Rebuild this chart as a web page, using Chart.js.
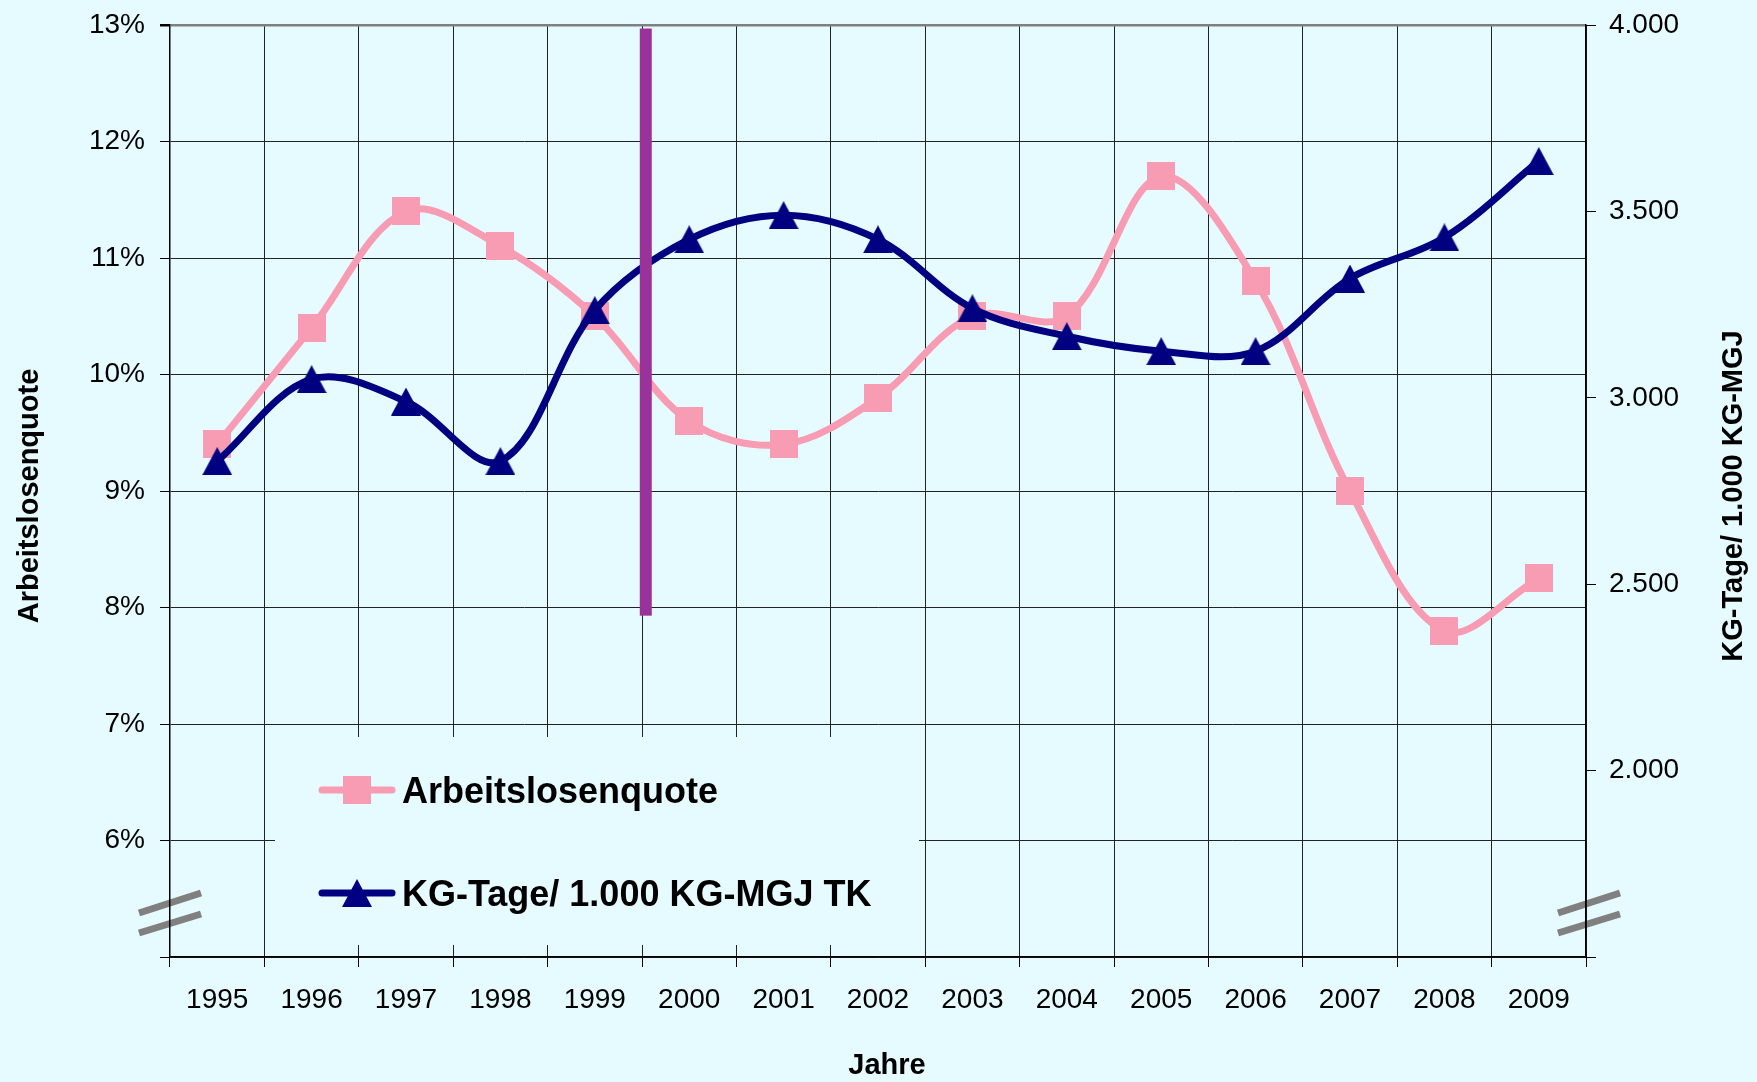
<!DOCTYPE html>
<html lang="de">
<head>
<meta charset="utf-8">
<title>Arbeitslosenquote und KG-Tage</title>
<script src="https://cdn.jsdelivr.net/npm/chart.js@4.4.1/dist/chart.umd.min.js"></script>
<style>
  html, body { margin: 0; padding: 0; background: #e6fbff; }
  #wrap { width: 1757px; height: 1082px; }
</style>
</head>
<body>
<div id="wrap"><canvas id="chart"></canvas></div>
<script>
// Daten
const years = ["1995", "1996", "1997", "1998", "1999", "2000", "2001", "2002", "2003", "2004", "2005", "2006", "2007", "2008", "2009"];
const arbeitslosenquote = [9.4, 10.4, 11.4, 11.1, 10.5, 9.6, 9.4, 9.8, 10.5, 10.5, 11.7, 10.8, 9.0, 7.8, 8.25];
const kgTage = [2830, 3050, 2990, 2830, 3235, 3425, 3490, 3425, 3240, 3165, 3125, 3125, 3320, 3430, 3635];
const quoteRange = [5, 13];
const kgRange = [1500, 4000];
const hiddenTicks = [5, 1500];
// violetter Balken zwischen 1999 und 2000 (Werte auf der linken Achse)
const markerSlot = 4.54;
const markerSpan = [12.97, 7.93];

const BG = "#e6fbff";
const PINK = "#f79cb2";
const NAVY = "#000080";
const PURPLE = "#993399";
const FONT = "'Liberation Sans', Arial, sans-serif";

function squareMarker(size, color) {
  const c = document.createElement("canvas");
  c.width = size;
  c.height = size;
  const g = c.getContext("2d");
  g.fillStyle = color;
  g.fillRect(0, 0, size, size);
  return c;
}

function triangleMarker(w, h, color) {
  const c = document.createElement("canvas");
  c.width = w;
  c.height = h;
  const g = c.getContext("2d");
  g.fillStyle = color;
  g.beginPath();
  g.moveTo(w / 2, 0);
  g.lineTo(w, h);
  g.lineTo(0, h);
  g.closePath();
  g.fill();
  return c;
}

const squareImg = squareMarker(28, PINK);
const triangleImg = triangleMarker(30, 28, NAVY);

const decor = {
  id: "decor",
  beforeDraw(chart) {
    const { ctx, chartArea: a } = chart;
    ctx.save();
    ctx.fillStyle = BG;
    ctx.fillRect(0, 0, chart.width, chart.height);
    // Achsenunterbrechung
    ctx.strokeStyle = "#808080";
    ctx.lineWidth = 7;
    [a.left, a.right + 3].forEach((x) => {
      [[-44, -64], [-24, -43]].forEach(([y1, y2]) => {
        ctx.beginPath();
        ctx.moveTo(x - 31, a.bottom + y1);
        ctx.lineTo(x + 31, a.bottom + y2);
        ctx.stroke();
      });
    });
    ctx.restore();
  },
  beforeDatasetsDraw(chart) {
    const { ctx } = chart;
    ctx.save();
    ctx.fillStyle = BG;
    ctx.fillRect(275, 737, 644, 208);
    const rows = [
      { ds: chart.data.datasets[0], y: 790 },
      { ds: chart.data.datasets[1], y: 893 },
    ];
    rows.forEach(({ ds, y }) => {
      ctx.strokeStyle = ds.borderColor;
      ctx.lineWidth = 7;
      ctx.lineCap = "round";
      ctx.beginPath();
      ctx.moveTo(322, y);
      ctx.lineTo(392, y);
      ctx.stroke();
      const img = ds.pointStyle;
      ctx.drawImage(img, 357 - img.width / 2, y - img.height / 2);
      ctx.fillStyle = "#000";
      ctx.font = "bold 36px " + FONT;
      ctx.textBaseline = "alphabetic";
      ctx.fillText(ds.label, 402, y + 13);
    });
    ctx.restore();
  },
  afterDatasetsDraw(chart) {
    const { ctx, scales } = chart;
    const x0 = scales.x.getPixelForValue(Math.floor(markerSlot));
    const x1 = scales.x.getPixelForValue(Math.floor(markerSlot) + 1);
    const x = x0 + (markerSlot - Math.floor(markerSlot)) * (x1 - x0);
    ctx.save();
    ctx.fillStyle = PURPLE;
    const top = scales.y.getPixelForValue(markerSpan[0]);
    const bottom = scales.y.getPixelForValue(markerSpan[1]);
    ctx.fillRect(x - 6, top, 12, bottom - top);
    ctx.restore();
  },
  afterDraw(chart) {
    const { ctx } = chart;
    ctx.save();
    ctx.fillStyle = "#000";
    ctx.font = "bold 29px " + FONT;
    ctx.textAlign = "center";
    ctx.textBaseline = "middle";
    const midY = 496;
    [[30, "Arbeitslosenquote"], [1734, "KG-Tage/ 1.000 KG-MGJ"]].forEach(([x, text]) => {
      ctx.save();
      ctx.translate(x, midY);
      ctx.rotate(-Math.PI / 2);
      ctx.fillText(text, 0, 0);
      ctx.restore();
    });
    ctx.fillText("Jahre", 887, 1066);
    ctx.restore();
  },
};

const tickFont = { family: FONT, size: 28 };

// feste Achsenbreiten, damit die Zeichenfläche wie im Original liegt
function fixWidth(w) {
  return (s) => {
    s.width = w;
    s.paddingTop = 0;
    s.paddingBottom = 0;
  };
}

new Chart(document.getElementById("chart"), {
  type: "line",
  data: {
    labels: years,
    datasets: [
      {
        label: "Arbeitslosenquote",
        data: arbeitslosenquote,
        yAxisID: "y",
        borderColor: PINK,
        borderWidth: 7,
        borderCapStyle: "round",
        borderJoinStyle: "round",
        pointStyle: squareImg,
        pointRadius: 14,
        pointHoverRadius: 14,
        tension: 0.35,
        order: 1,
      },
      {
        label: "KG-Tage/ 1.000 KG-MGJ TK",
        data: kgTage,
        yAxisID: "y1",
        borderColor: NAVY,
        borderWidth: 7,
        borderCapStyle: "round",
        borderJoinStyle: "round",
        pointStyle: triangleImg,
        pointRadius: 14,
        pointHoverRadius: 14,
        tension: 0.35,
        order: 0,
      },
    ],
  },
  options: {
    responsive: true,
    maintainAspectRatio: false,
    animation: false,
    events: [],
    layout: { padding: { top: 25, left: 0, right: 0, bottom: 0 } },
    plugins: {
      legend: { display: false },
      tooltip: { enabled: false },
    },
    scales: {
      x: {
        offset: true,
        grid: { offset: true, color: "#222", lineWidth: 1, tickLength: 10, tickColor: "#000" },
        border: { color: "#000", width: 1.5 },
        ticks: { color: "#000", font: tickFont, padding: 16, maxRotation: 0, autoSkip: false },
        afterFit: (s) => { s.height = 125; },
      },
      y: {
        position: "left",
        min: quoteRange[0],
        max: quoteRange[1],
        ticks: {
          stepSize: 1,
          color: "#000",
          font: tickFont,
          padding: 15,
          callback: (v) => (hiddenTicks.includes(v) ? "" : v + "%"),
        },
        grid: {
          color: (c) => (c.tick && c.tick.value === quoteRange[1] ? "#808080" : "#222"),
          lineWidth: (c) => (c.tick && c.tick.value === quoteRange[1] ? 2.5 : 1),
          tickColor: "#000",
          tickLength: 10,
        },
        border: { color: "#000", width: 1.5 },
        afterFit: fixWidth(170),
      },
      y1: {
        position: "right",
        min: kgRange[0],
        max: kgRange[1],
        ticks: {
          stepSize: 500,
          color: "#000",
          font: tickFont,
          padding: 13,
          callback: (v) => (hiddenTicks.includes(v) ? "" : (v / 1000).toFixed(3)),
        },
        grid: { drawOnChartArea: false, tickColor: "#000", tickLength: 10 },
        border: { color: "#000", width: 1.5 },
        afterFit: fixWidth(171),
      },
    },
  },
  plugins: [decor],
});
</script>
</body>
</html>
